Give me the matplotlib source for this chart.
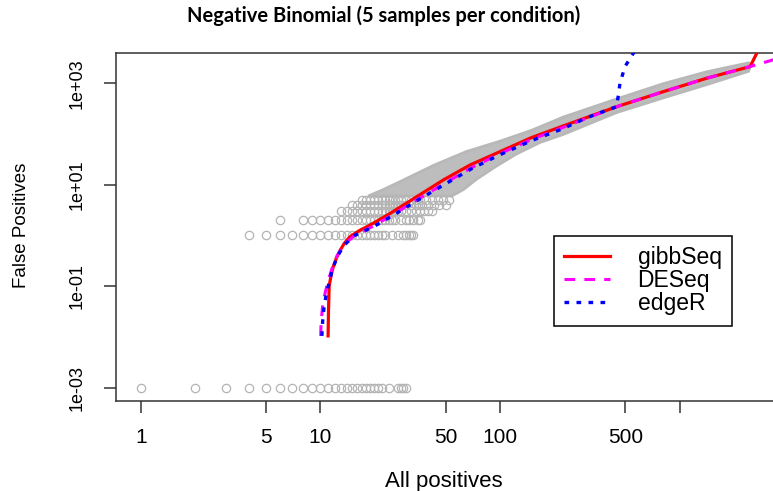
import matplotlib
matplotlib.use("Agg")
import matplotlib.pyplot as plt
from matplotlib import font_manager

# --- data ---
# rows of gray circles (integer false-positive counts); 0 FPs is drawn at 1e-03
zero_fp_x = [1, 2, 3, 4, 5, 6, 7, 8, 9, 10, 11, 12, 13, 14, 15, 16, 17, 18, 19, 20,
             21, 22, 24, 27, 28, 29, 30]
fp1_x = [4, 5, 6, 7, 8, 9, 10, 11, 12, 13, 14, 15, 16, 17, 18, 19, 20, 21, 22, 23,
         25, 27, 29, 30, 31, 32, 33]
fp2_x = [6, 8, 9, 10, 11, 12, 13, 14, 15, 16, 17, 18, 19, 20, 21, 22, 23, 24, 25, 26,
         28, 30, 31, 33, 35, 36]
fp3_x = [13, 14, 15, 16, 17, 18, 19, 20, 21, 22, 23, 24, 25, 26, 27, 28, 30, 32, 34,
         36, 38, 40, 42]
fp4_x = [15, 16, 17, 18, 19, 20, 21, 22, 23, 24, 25, 26, 27, 28, 30, 32, 34, 35, 37,
         40, 43, 46, 50]
fp5_x = [17, 18, 19, 20, 21, 22, 23, 24, 25, 26, 27, 28, 30, 32, 34, 36, 39, 42, 45,
         48, 52]
row_y = {0.001: zero_fp_x, 1: fp1_x, 2: fp2_x, 3: fp3_x, 4: fp4_x, 5: fp5_x}

# outline of the dense part of the cloud (upper edge left->right, then lower edge back)
cloud_x = [18.5, 20.5, 22.4, 27.8, 42.6, 65, 100, 150, 225, 447, 812, 1417, 2422, 2500,
           2422, 1417, 812, 447, 225, 167, 123, 96, 74, 62.8, 54]
cloud_y = [6, 7, 8, 11.5, 24, 45, 72, 118, 215, 490, 980, 1680, 2520, 2300,
           1720, 940, 515, 265, 98, 68, 40, 23.5, 12.8, 8.1, 6]

gibb_x = [11.05, 11.1, 11.2, 11.5, 11.8, 12.3, 12.9, 13.6, 14.6, 16.5, 18.9, 24.4, 34.4,
          48.4, 68.2, 100, 150, 225, 447, 812, 1417, 2471, 2750]
gibb_y = [0.0105, 0.03, 0.1, 0.17, 0.24, 0.36, 0.51, 0.7, 0.94, 1.25, 1.6, 2.7, 5.8,
          12.4, 24.5, 44.8, 85, 144, 345, 682, 1256, 2129, 4540]

deseq_x = [10.05, 10.1, 10.3, 10.6, 11.0, 11.6, 12.4, 13.5, 15.5, 19.5, 25, 35, 50, 70,
           100, 150, 225, 447, 812, 1417, 2471, 4100]
deseq_y = [0.0105, 0.02, 0.04, 0.07, 0.12, 0.22, 0.4, 0.65, 1.0, 1.5, 2.5, 5.2, 11, 22,
           41, 78, 135, 345, 682, 1256, 2129, 3600]

edger_x = [10.2, 10.3, 10.5, 10.8, 11.2, 11.7, 12.5, 13.6, 15.5, 19.5, 25, 35, 50, 70,
           100, 150, 225, 300, 400, 447, 466, 497, 553, 600]
edger_y = [0.0105, 0.02, 0.04, 0.07, 0.12, 0.22, 0.4, 0.65, 1.0, 1.45, 2.4, 5.0, 10.5,
           21, 39, 74, 128, 205, 300, 345, 1000, 2130, 3900, 6000]

x_ticks = [1, 5, 10, 50, 100, 500, 1000]
x_labels = ["1", "5", "10", "50", "100", "500", ""]
y_ticks = [1e-3, 1e-1, 1e1, 1e3]
y_labels = ["1e-03", "1e-01", "1e+01", "1e+03"]

installed = {f.name for f in font_manager.fontManager.ttflist}
sans = "Liberation Sans" if "Liberation Sans" in installed else "DejaVu Sans"
title_font = "Lato" if "Lato" in installed else sans
plt.rcParams["font.family"] = sans

W, H = 773, 491
fig = plt.figure(figsize=(W / 100, H / 100), dpi=100)
# axes box runs past the right edge of the picture, as in the reference
left, right, top, bottom = 115.5, 790, 53.3, 400.7
ax = fig.add_axes([left / W, 1 - bottom / H, (right - left) / W, (bottom - top) / H])
ax.set_xscale("log")
ax.set_yscale("log")
ax.set_xlim(10 ** -0.1403, 10 ** 3.615)
ax.set_ylim(10 ** -3.256, 10 ** 3.59)

gray = "#b4b4b4"
ax.fill(cloud_x, cloud_y, color="#bdbdbd", ec="#b8b8b8", lw=2, zorder=1)
for yv, xs in row_y.items():
    ax.plot(xs, [yv] * len(xs), ls="none", marker="o", ms=6, mfc="none",
            mec=gray, mew=0.9, zorder=2)

ax.plot(gibb_x, gibb_y, color="#ff0000", lw=2.3, label="gibbSeq", zorder=3)
ax.plot(deseq_x, deseq_y, color="#ff00ff", lw=2.2, dashes=(3.5, 3), label="DESeq", zorder=4)
ax.plot(edger_x, edger_y, color="#0000ff", lw=2.4, dashes=(1.4, 2.2), label="edgeR", zorder=5)

ax.xaxis.set_minor_locator(matplotlib.ticker.NullLocator())
ax.yaxis.set_minor_locator(matplotlib.ticker.NullLocator())
ax.set_xticks(x_ticks)
ax.set_xticklabels(x_labels, fontsize=15)
ax.set_yticks(y_ticks)
ax.set_yticklabels(y_labels, fontsize=13, rotation=90, va="center")
ax.tick_params(axis="x", length=8.5, width=1.1, color="#333333", pad=11)
ax.tick_params(axis="y", length=8.5, width=1.1, color="#333333", pad=13)
for s in ax.spines.values():
    s.set_color("#333333")
    s.set_linewidth(1.1)

fig.text(444 / W, 1 - 481 / H, "All positives", fontsize=16, ha="center", va="center")
fig.text(22 / W, 1 - 225 / H, "False Positives", fontsize=13.5, rotation=90,
         ha="center", va="center")
fig.text(384 / W, 1 - 16 / H, "Negative Binomial (5 samples per condition)",
         fontsize=14.5, fontweight="bold", ha="center", va="center", family=title_font)

leg = ax.legend(loc="upper left", bbox_to_anchor=(0.650, 0.474), fontsize=16.5,
                frameon=True, fancybox=False, edgecolor="black", framealpha=1,
                borderaxespad=0, borderpad=0.45, handlelength=2.0, handletextpad=1.2,
                labelspacing=0.0)
leg.get_frame().set_linewidth(1.1)

fig.savefig("out.png", dpi=100)
